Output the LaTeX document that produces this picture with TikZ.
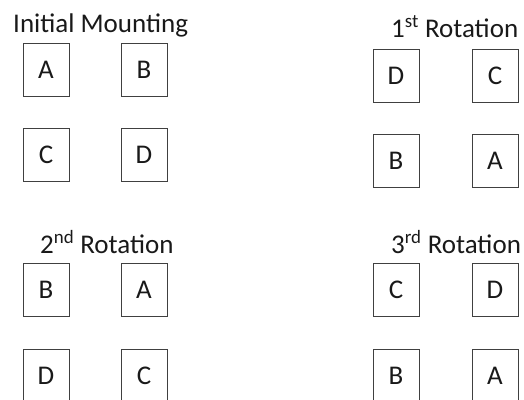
\documentclass[tikz,border=0pt]{standalone}
\usepackage{fontspec}
\setmainfont{Carlito}
\begin{document}
\begin{tikzpicture}[x=1pt,y=-1pt,
  cell/.style={draw=black!75,line width=0.9pt,minimum width=46pt,minimum height=53pt,inner sep=0pt,font=\fontsize{27}{32}\selectfont,text=black!90,text depth=0pt},
  ttl/.style={anchor=base west,inner sep=0pt,font=\fontsize{27}{32}\selectfont,text=black!90}]
\useasboundingbox (0,0) rectangle (524,399);
\clip (0,0) rectangle (524,399);
% Initial Mounting
\node[ttl] (t0) at (13,32) {Initial Mounting};
\node[cell] (a0) at (46,69.5) {A};
\node[cell] (b0) at (144,69.5) {B};
\node[cell] (c0) at (46,155) {C};
\node[cell] (d0) at (144,155) {D};
% 1st Rotation
\node[ttl] (t1) at (391,37) {1\textsuperscript{st} Rotation};
\node[cell] (d1) at (396,75.5) {D};
\node[cell] (c1) at (495,75.5) {C};
\node[cell] (b1) at (396,160.5) {B};
\node[cell] (a1) at (495,160.5) {A};
% 2nd Rotation
\node[ttl] (t2) at (40,253) {2\textsuperscript{nd} Rotation};
\node[cell] (b2) at (46,289.5) {B};
\node[cell] (a2) at (144,289.5) {A};
\node[cell] (d2) at (46,375.5) {D};
\node[cell] (c2) at (144,375.5) {C};
% 3rd Rotation
\node[ttl] (t3) at (391,253) {3\textsuperscript{rd} Rotation};
\node[cell] (c3) at (396,289.5) {C};
\node[cell] (d3) at (495,289.5) {D};
\node[cell] (b3) at (396,375.5) {B};
\node[cell] (a3) at (495,375.5) {A};
\end{tikzpicture}
\end{document}
